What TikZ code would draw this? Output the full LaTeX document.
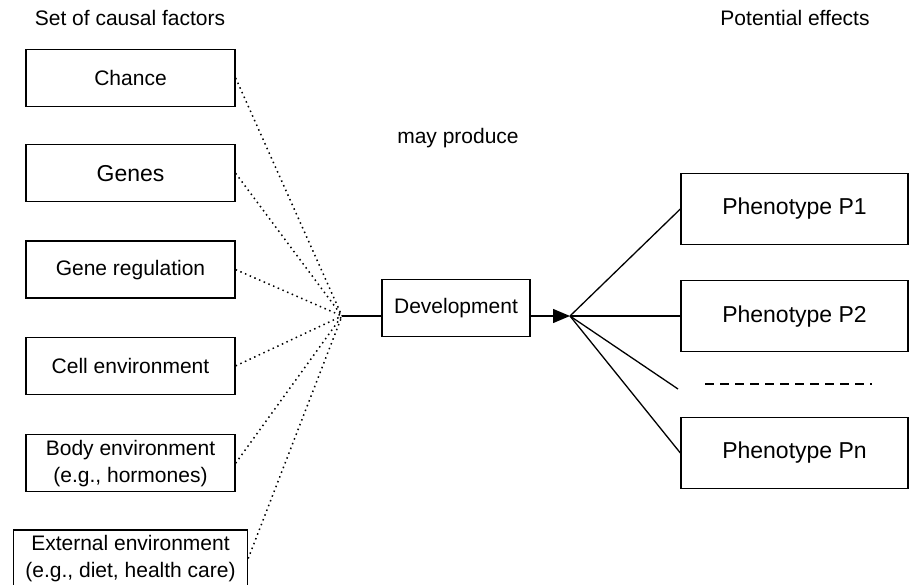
\documentclass[tikz,border=0pt]{standalone}
\usepackage{fontspec}
\setmainfont{Liberation Sans}
\usetikzlibrary{arrows.meta, positioning}
\tikzstyle{factor} = [rectangle, draw=black, line width=1.3pt, minimum width=209pt, minimum height=57pt, inner xsep=12pt, inner ysep=3pt, align=center, font=\fontsize{21}{27}\selectfont]
\tikzstyle{effect} = [rectangle, draw=black, line width=1.3pt, minimum width=227pt, minimum height=71pt, text centered, font=\fontsize{23}{27}\selectfont]
\tikzstyle{heading} = [font=\fontsize{21}{25}\selectfont]
\tikzstyle{dots} = [line width=1.5pt, dash pattern=on 1.5pt off 3.6pt]
\tikzstyle{aro} = [-{Triangle[length=17pt,width=14pt]}, line width=1.3pt]

\begin{document}
\begin{tikzpicture}[x=1pt, y=-1pt, line width=1.3pt]

  \useasboundingbox (0,0) rectangle (909,585);

  \node (causes) [heading] at (130,18) {Set of causal factors};
  \node (effects) [heading] at (795,18) {Potential effects};
  \node (produce) [heading] at (458,138) {may produce};

  \coordinate (hub) at (342,316);
  \coordinate (fan) at (570,316);

  % causal factors
  \node (chance) [factor] at (130.5,78) {Chance};
  \node (genes) [factor, below=37pt of chance, font=\fontsize{23}{27}\selectfont] {Genes};
  \node (genereg) [factor, below=38pt of genes] {Gene regulation};
  \node (cellenv) [factor, below=38pt of genereg] {Cell environment};
  \node (bodyenv) [factor, below=39pt of cellenv] {Body environment\\(e.g., hormones)};
  \node (extenv) [factor, below=37pt of bodyenv] {External environment\\(e.g., diet, health care)};

  \draw [dots] (chance.east) -- (hub);
  \draw [dots] (genes.east) -- (hub);
  \draw [dots] (genereg.east) -- (hub);
  \draw [dots] (cellenv.east) -- (hub);
  \draw [dots] (bodyenv.east) -- (hub);
  \draw [dots] (extenv.east) -- (hub);

  \node (dev) [factor, minimum width=148pt, inner xsep=10pt] at (456,308) {Development};
  \draw (hub) -- (hub -| dev.west);
  \draw [aro] (fan -| dev.east) -- (fan);

  % potential effects
  \node (pone) [effect] at (794.5,209) {Phenotype P1};
  \node (ptwo) [effect, below=35pt of pone] {Phenotype P2};
  \node (pn) [effect] at (794.5,453) {Phenotype Pn};

  \coordinate (gapend) at (678,389);
  \coordinate (dashl) at (705,384);
  \coordinate (dashr) at (872,384);

  \draw (fan) -- (pone.west);
  \draw (fan) -- (ptwo.west |- fan);
  \draw (fan) -- (gapend);
  \draw (fan) -- (pn.west);
  \draw [dash pattern=on 9pt off 6pt] (dashl) -- (dashr);

\end{tikzpicture}
\end{document}
